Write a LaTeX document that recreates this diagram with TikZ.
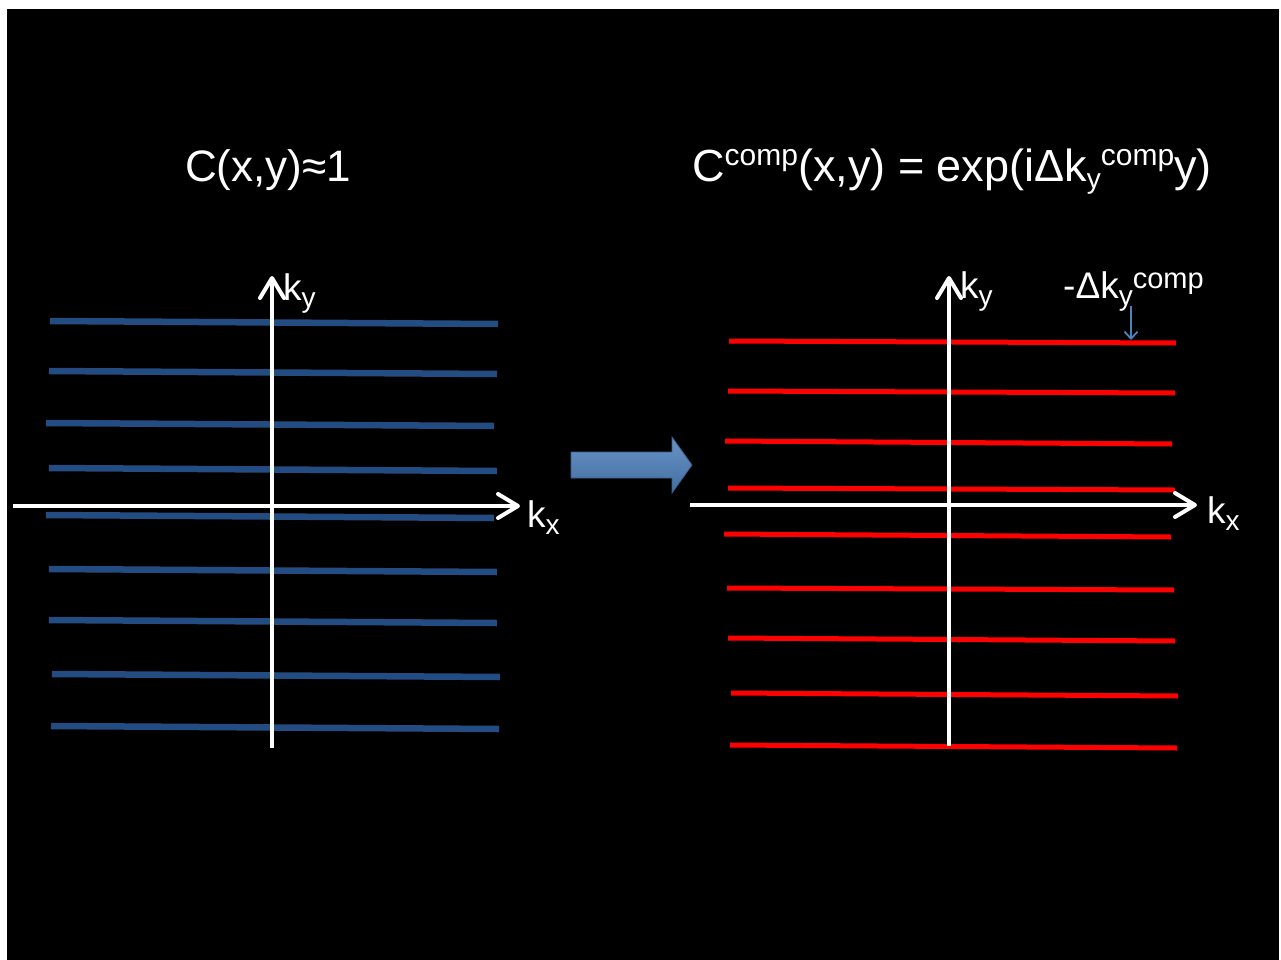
\documentclass[tikz,border=0pt]{standalone}
\usepackage{fontspec}
\setmainfont{Liberation Sans}
\usetikzlibrary{arrows.meta}
\definecolor{lineblue}{RGB}{35,76,130}
\definecolor{arrowblue}{RGB}{79,129,189}
\definecolor{arrowdark}{RGB}{56,93,138}
\newcommand{\bigtxt}{\fontsize{44}{48}\selectfont}
\newcommand{\lbltxt}{\fontsize{37}{40}\selectfont}
\newcommand{\supA}[1]{\raisebox{16pt}{\fontsize{30}{32}\selectfont #1}}
\newcommand{\subA}[1]{\raisebox{-7pt}{\fontsize{28}{30}\selectfont #1}}
\newcommand{\supB}[1]{\raisebox{10pt}{\fontsize{29}{30}\selectfont #1}}
\tikzset{
  blueline/.style={draw=lineblue, line width=6.5pt},
  redline/.style={draw=red, line width=5pt},
  axis/.style={draw=white, line width=4pt, -{Straight Barb[length=20pt,width=24pt,line width=4pt,round]}},
  txt/.style={text=white, inner sep=0pt, anchor=base west},
}
\begin{document}
\begin{tikzpicture}[x=1pt,y=-1pt]
\useasboundingbox (0,0) rectangle (1281,960);
\fill[white] (0,0) rectangle (1281,960);
\fill[black] (7,9) rectangle (1279,960);
% left lines
\foreach \xa/\ya/\xb/\yb in {50/321/498/324, 49/371/497/374, 46/423/494/426, 49/468/497/471, 46/515/494/518, 49/569/497/572, 49/620/497/623, 52/674/500/677, 51/726/499/729}
  \draw[blueline] (\xa,\ya) -- (\xb,\yb);
% right lines
\foreach \xa/\ya/\xb/\yb in {729/341/1176/343, 728/391/1175/393, 725/441/1172/444, 728/488/1175/490, 724/534/1171/537, 727/588/1174/590, 728/638/1175/641, 731/693/1178/696, 730/745/1177/748}
  \draw[redline] (\xa,\ya) -- (\xb,\yb);
% left axes
\coordinate (ly0) at (272,748);
\coordinate (ly1) at (272,276);
\coordinate (lx0) at (13,506);
\coordinate (lx1) at (520,506);
\draw[axis] (ly0) -- (ly1);
\draw[axis] (lx0) -- (lx1);
% right axes
\coordinate (ry0) at (949,746);
\coordinate (ry1) at (949,276);
\coordinate (rx0) at (690,505);
\coordinate (rx1) at (1197,505);
\draw[axis] (ry0) -- (ry1);
\draw[axis] (rx0) -- (rx1);
% labels
\node[txt] (lky) at (283,300) {\lbltxt k\subA{y}};
\node[txt] (lkx) at (527,527) {\lbltxt k\subA{x}};
\node[txt] (rky) at (960,298) {\lbltxt k\subA{y}};
\node[txt] (rkx) at (1207,523) {\lbltxt k\subA{x}};
\node[txt] (dk) at (1063,298) {\lbltxt -Δk\subA{y}\supB{comp}};
\coordinate (dka) at (1131,306);
\coordinate (dkb) at (1131,340);
\draw[arrowblue, line width=1.8pt, -{Straight Barb[length=7pt,width=13pt,line width=1.8pt]}] (dka) -- (dkb);
% titles
\node[txt] (t1) at (185,182) {\bigtxt C(x,y)≈1};
\node[txt] (t2) at (692,182) {\fontsize{45}{48}\selectfont C\supA{comp}(x,y) = exp(iΔk\subA{y}\supA{comp}y)};
% block arrow
\shade[top color=arrowblue!85!white, bottom color=arrowblue!85!black, draw=arrowdark, line width=0.8pt]
  (571,452) -- (672,452) -- (672,437) -- (692,465) -- (672,493) -- (672,478) -- (571,478) -- cycle;
\end{tikzpicture}
\end{document}
